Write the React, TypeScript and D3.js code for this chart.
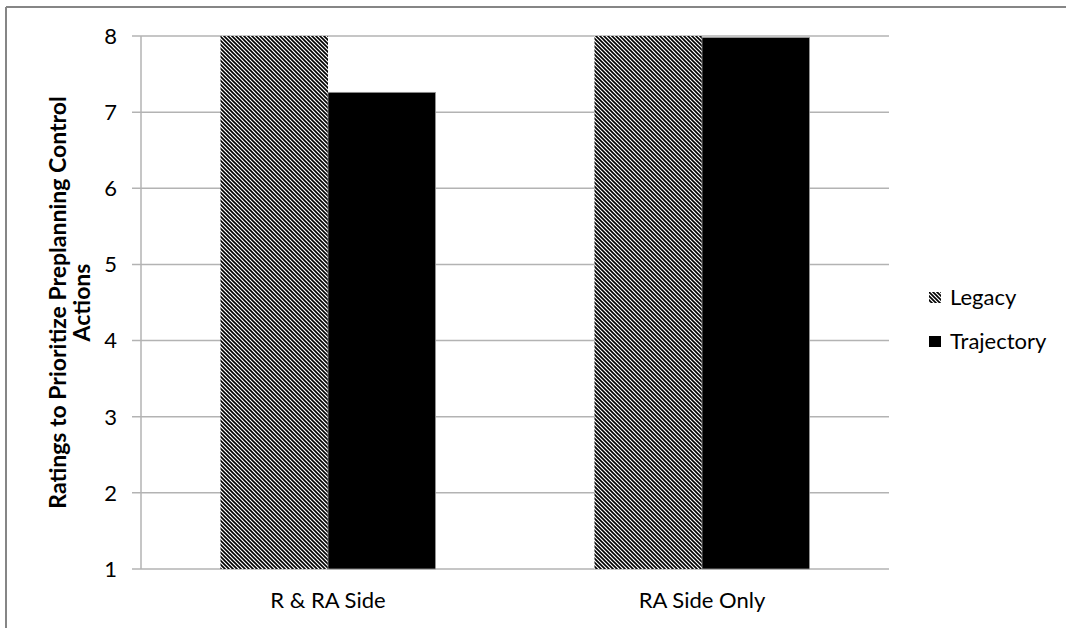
import React from "react";
import * as d3 from "d3";

const categories = ["R & RA Side", "RA Side Only"];
const seriesNames = ["Legacy", "Trajectory"];
const legacyValues = [8, 8];
const trajectoryValues = [7.26, 7.98];
const yTicks = [1, 2, 3, 4, 5, 6, 7, 8];
const yTitleLines = ["Ratings to Prioritize Preplanning Control", "Actions"];

const W = 1066;
const H = 628;
const FONT = "Lato, 'Open Sans', 'Liberation Sans', sans-serif";

export default function App() {
  const left = 141, right = 889, top = 36, bottom = 569;
  const x = d3.scaleBand<string>().domain(categories).range([left, right]).paddingInner(0.425).paddingOuter(0.2125);
  const y = d3.scaleLinear().domain([1, 8]).range([bottom, top]);
  const bw = x.bandwidth() / 2;
  const series = [legacyValues, trajectoryValues];
  const fills = ["url(#hatch)", "#000"];

  return (
    <svg width={W} height={H} style={{ position: "absolute", left: 0, top: 0, background: "#fff" }} fontFamily={FONT}>
      <defs>
        <pattern id="hatch" patternUnits="userSpaceOnUse" width={4} height={4}>
          <rect width={4} height={4} fill="#fff" />
          <path d="M-1,-1 L5,5 M-1,3 L1,5 M3,-1 L5,1" stroke="#000" strokeWidth={1.6} />
        </pattern>
      </defs>
      <rect x={0} y={0} width={W} height={H} fill="#fff" />
      {/* border */}
      <line x1={6} y1={7} x2={W} y2={7} stroke="#868686" strokeWidth={2} />
      <line x1={6} y1={7} x2={6} y2={H} stroke="#868686" strokeWidth={2} />

      {/* gridlines */}
      {yTicks.map((t) => (
        <g key={t}>
          <line x1={132} x2={right} y1={y(t)} y2={y(t)} stroke="#b3b3b3" strokeWidth={1.5} />
          <text x={117} y={y(t)} dy="0.36em" textAnchor="end" fontSize={22} fill="#000">{t}</text>
        </g>
      ))}
      <line x1={left} x2={left} y1={top} y2={bottom} stroke="#b3b3b3" strokeWidth={1.5} />

      {/* bars */}
      {series.map((vals, si) =>
        categories.map((c, ci) => (
          <rect
            key={`${si}-${ci}`}
            x={(x(c) as number) + si * bw}
            y={y(vals[ci])}
            width={bw}
            height={bottom - y(vals[ci])}
            fill={fills[si]}
            stroke={si === 1 ? "#9a9a9a" : "none"}
            strokeWidth={0.8}
          />
        ))
      )}

      {/* category labels */}
      {categories.map((c) => (
        <text key={c} x={(x(c) as number) + x.bandwidth() / 2} y={608} textAnchor="middle" fontSize={22} fill="#000">{c}</text>
      ))}

      {/* y title */}
      <g transform={`translate(66, ${(top + bottom) / 2}) rotate(-90)`}>
        {yTitleLines.map((l, i) => (
          <text key={l} x={0} y={i * 24} textAnchor="middle" fontSize={23} fontWeight="bold" fill="#000">{l}</text>
        ))}
      </g>

      {/* legend */}
      {seriesNames.map((n, i) => (
        <g key={n} transform={`translate(929, ${292 + i * 44})`}>
          <rect x={0} y={0} width={12} height={11} fill={fills[i]} />
          <text x={21} y={13} fontSize={22} fill="#000">{n}</text>
        </g>
      ))}
    </svg>
  );
}
